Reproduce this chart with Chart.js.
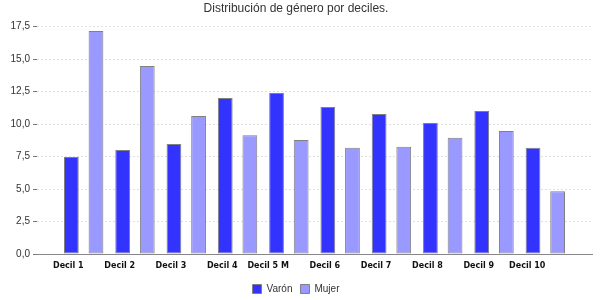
<!DOCTYPE html>
<html>
<head>
<meta charset="utf-8">
<script src="https://cdn.jsdelivr.net/npm/chart.js@4.4.1/dist/chart.umd.min.js"></script>
<style>
  html, body { margin: 0; padding: 0; background: #fff; }
  #wrap { width: 600px; height: 300px; }
</style>
</head>
<body>
<div id="wrap"><canvas id="decilChart"></canvas></div>
<script>
// values (percent of each gender per decile)
const categories = ['Decil 1', 'Decil 2', 'Decil 3', 'Decil 4', 'Decil 5 M',
                    'Decil 6', 'Decil 7', 'Decil 8', 'Decil 9', 'Decil 10'];
const varon = [7.46, 8.0, 8.46, 12.0, 12.39, 11.31, 10.77, 10.08, 11.0, 8.17];
const mujer = [17.17, 14.47, 10.62, 9.15, 8.77, 8.17, 8.25, 8.94, 9.46, 4.83];
const yTicks = [0, 2.5, 5, 7.5, 10, 12.5, 15, 17.5];

const toPoints = arr => arr.map((v, i) => ({ x: i, y: v }));

const ctx = document.getElementById('decilChart').getContext('2d');
const chart = new Chart(ctx, {
    type: 'bar',
    data: {
        datasets: [{
            label: 'Varón',
            data: toPoints(varon),
            backgroundColor: '#3333ff',
            borderColor: '#808080',
            borderWidth: 1,
            borderSkipped: false
        }, {
            label: 'Mujer',
            data: toPoints(mujer),
            backgroundColor: '#9999ff',
            borderColor: '#808080',
            borderWidth: 1,
            borderSkipped: false
        }]
    },
    options: {
        responsive: true,
        maintainAspectRatio: false,
        animation: false,
        categoryPercentage: 0.96,
        barPercentage: 0.6,
        layout: { padding: { left: 0, right: 8, top: 0, bottom: -4 } },
        plugins: {
            title: {
                display: true,
                text: 'Distribución de género por deciles.',
                color: '#333',
                font: { family: 'Liberation Sans', size: 12, weight: 'normal' },
                padding: { top: 1, bottom: 4 }
            },
            legend: {
                position: 'bottom',
                labels: {
                    boxWidth: 9,
                    boxHeight: 9,
                    padding: 8,
                    color: '#333',
                    font: { family: 'Liberation Sans', size: 10 }
                }
            },
            tooltip: { enabled: false }
        },
        scales: {
            x: {
                type: 'linear',
                min: -0.91,
                max: 9.91,
                offset: false,
                grid: { display: false, drawTicks: false },
                border: { display: true, color: '#888' },
                afterBuildTicks: axis => { axis.ticks = categories.map((c, i) => ({ value: i })); },
                afterFit: scale => { scale.height = 22; },
                ticks: {
                    align: 'end',
                    maxRotation: 0,
                    autoSkip: false,
                    padding: 7,
                    color: '#111',
                    font: { family: 'DejaVu Sans', size: 8, weight: 'bold' },
                    callback: v => categories[v]
                }
            },
            y: {
                min: 0,
                max: 18.06,
                border: { display: false, dash: [2, 2] },
                grid: {
                    color: '#e0e0e0',
                    tickColor: '#777',
                    tickLength: 4,
                    tickBorderDash: []
                },
                afterBuildTicks: axis => { axis.ticks = yTicks.map(v => ({ value: v })); },
                afterFit: scale => { scale.width = 37; },
                ticks: {
                    padding: 3,
                    color: '#333',
                    font: { family: 'Liberation Sans', size: 10 },
                    callback: v => v.toFixed(1).replace('.', ',')
                }
            }
        }
    }
});
</script>
</body>
</html>
